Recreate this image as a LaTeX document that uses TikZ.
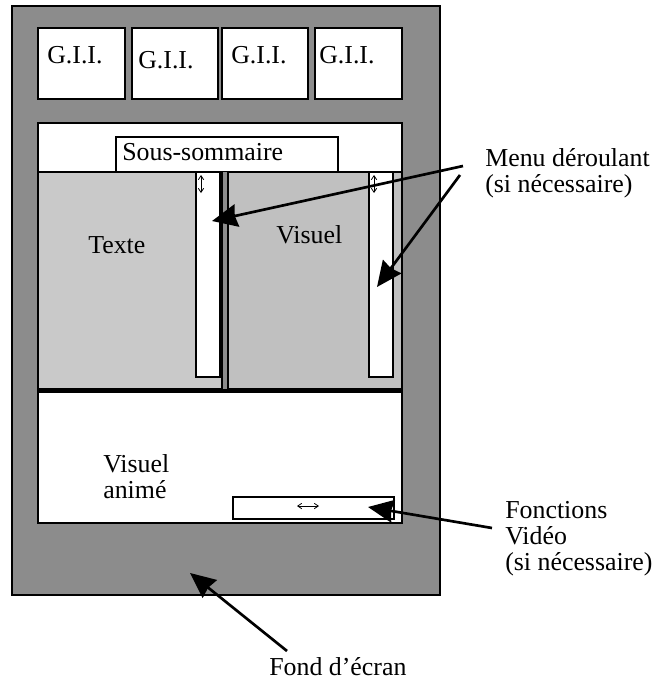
\documentclass[tikz,border=0pt]{standalone}
\usepackage{fontspec}
\setmainfont{Liberation Serif}
\usetikzlibrary{arrows.meta}
\definecolor{fondgris}{HTML}{8C8C8C}
\definecolor{textegris}{HTML}{C9C9C9}
\definecolor{visuelgris}{HTML}{C0C0C0}
\tikzset{
  cadre/.style={draw, line width=2pt},
  txt/.style={inner sep=0pt, anchor=base west, align=left,
    font=\fontsize{19.4}{19.5}\selectfont},
  fleche/.style={-{Stealth[length=19pt,width=17pt,inset=1.5pt]}, line width=2pt},
  defil/.style={{Straight Barb[length=3pt,width=4pt]}-{Straight Barb[length=3pt,width=4pt]}, line width=0.6pt}
}

\begin{document}
\begin{tikzpicture}[x=0.75pt,y=-0.75pt]
  \useasboundingbox (0,0) rectangle (651,682);
  % fond d'ecran
  \draw [cadre, fill=fondgris] (12,6) rectangle (440,595);
  % les G.I.I.
  \foreach \xa/\xb in {38/125,132/218,222/308,315/402}
    \draw [cadre, fill=white] (\xa,28) rectangle (\xb,99);
  \node [txt] (gii1) at (47,63) {G.I.I.};
  \node [txt] (gii2) at (138,68) {G.I.I.};
  \node [txt] (gii3) at (231,63) {G.I.I.};
  \node [txt] (gii4) at (319,63) {G.I.I.};

  % zone principale
  \draw [cadre, fill=white] (38,123) rectangle (402,523);
  \draw [cadre, fill=white] (116,137) rectangle (338,172);
  \node [txt] (sous) at (122,160) {Sous-sommaire};
  \fill [fondgris] (222,172) rectangle (228,389);
  \draw [cadre, fill=textegris] (38,172) rectangle (222,389);
  \draw [cadre, fill=visuelgris] (228,172) rectangle (402,389);
  \draw [line width=3pt] (38,391) -- (402,391);
  \node [txt] (texte) at (88,253) {Texte};
  \node [txt] (visuel) at (276,243) {Visuel};

  % barres de defilement
  \draw [cadre, fill=white] (196,172) rectangle (220,377);
  \draw [cadre, fill=white] (369,172) rectangle (393,377);
  \draw [defil] (201,175) -- (201,193);
  \draw [defil] (374,175) -- (374,193);

  % visuel anime
  \node [txt] (anime) at (103,498) {Visuel\\anim\'e};
  \draw [cadre, fill=white] (233,497) rectangle (394,519);
  \draw [defil] (297,506) -- (319,506);

  % legendes
  \node [txt] (menu) at (485,192) {Menu déroulant\\(si nécessaire)};
  \node [txt] (video) at (505,570) {Fonctions\\Vidéo\\(si nécessaire)};
  \node [txt] (fond) at (269,675) {Fond d’écran};

  \coordinate (menuA) at (463,166);
  \coordinate (menuB) at (460,175);
  \coordinate (pointeG) at (212,221);
  \coordinate (pointeD) at (377,287);
  \coordinate (videoA) at (492,528);
  \coordinate (pointeV) at (368,507);
  \coordinate (fondA) at (287,651);
  \coordinate (pointeF) at (190,573);

  \draw [fleche] (menuA) -- (pointeG);
  \draw [fleche] (menuB) -- (pointeD);
  \draw [fleche] (videoA) -- (pointeV);
  \draw [fleche] (fondA) -- (pointeF);
\end{tikzpicture}
\end{document}
